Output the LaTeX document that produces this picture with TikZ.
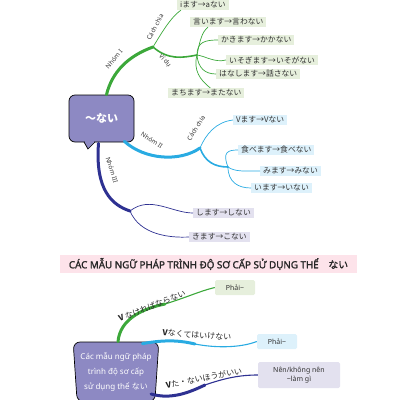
\documentclass[tikz,border=0pt]{standalone}
\usepackage{fontspec}
\setmainfont{Noto Sans}
\newfontfamily\jp{Noto Sans CJK JP}
\newfontfamily\headfont{Noto Sans}[FakeBold=1.6]
\newfontfamily\headjp{Noto Sans CJK JP}[FakeBold=1.6]
\usepackage{tikz}
\usetikzlibrary{shapes.geometric,calc}
\definecolor{nhomI}{HTML}{3CA83A}
\definecolor{nhomII}{HTML}{29ABE2}
\definecolor{nhomIII}{HTML}{2E3192}
\definecolor{boxpurple}{HTML}{8D89C3}
\definecolor{leafgreen}{HTML}{E6EFDC}
\definecolor{leafblue}{HTML}{DDF1FB}
\definecolor{leafpurple}{HTML}{E3E1EF}
\definecolor{bannerpink}{HTML}{FDE3EA}
\tikzset{
    topic/.style={
        rectangle, rounded corners=6pt, draw=black, line width=0.7pt,
        fill=boxpurple, text=white, align=center
    },
    bucket/.style={
        trapezium, shape border rotate=180, trapezium stretches=true,
        trapezium angle=85, rounded corners=7pt, draw=black, line width=0.7pt,
        fill=boxpurple, text=white, align=center,
        font=\fontsize{8}{15}\selectfont
    },
    leaf/.style={
        rectangle, anchor=west, inner xsep=3pt, inner ysep=1.5pt,
        text=black!80, font=\jp\fontsize{7.8}{8}\selectfont
    },
    result/.style={
        rectangle, rounded corners=1.5pt, minimum width=40pt, minimum height=15pt,
        align=center, text=black!80, font=\fontsize{7}{9}\selectfont
    },
    banner/.style={
        rectangle, fill=bannerpink, minimum width=297pt, minimum height=14pt,
        text=black!85, font=\headfont\fontsize{9.8}{10}\selectfont
    },
    tag/.style={text=black!80, inner sep=1pt, font=\fontsize{6.3}{7}\selectfont},
    cue/.style={text=black!85, font=\jp\fontsize{8}{9}\selectfont},
    trunk/.style={line width=3pt, line cap=round},
    bough/.style={line width=1.6pt, line cap=round},
    twig/.style={line width=0.7pt}
}
\begin{document}
\begin{tikzpicture}[x=1pt, y=-1pt]
\useasboundingbox (0,0) rectangle (400,400);

%% ---------- mind map of the nai form ----------
\node[topic, minimum width=65pt, minimum height=47pt,
      font=\jp\bfseries\fontsize{11}{12}\selectfont] (nai) at (101.5,118.5) {～ない};
%% speech bubble tail
\filldraw[fill=boxpurple, line width=0.7pt] (84,142) -- (88,149) -- (95,142);
\fill[boxpurple] (84.6,141) rectangle (94.4,142.6);

%% Nhom I (green)
\coordinate (gJ) at (153,47);
\coordinate (gK) at (197,55);
\draw[trunk, nhomI] ($(nai.north)+(5,0)$) .. controls (112,72) and (128,56) .. (gJ);
\node[tag, rotate=50] (tagI) at (114,59) {Nhóm I};
\node[tag, rotate=62] (chiaI) at (155,27) {Cách chia};
\node[tag, rotate=-48] (viduI) at (165,61) {Ví dụ};

\node[leaf, fill=leafgreen] (g1) at (177,5)  {iます→aない};
\node[leaf, fill=leafgreen] (g2) at (190,22) {言います→言わない};
\node[leaf, fill=leafgreen] (g3) at (218,40) {かきます→かかない};
\node[leaf, fill=leafgreen] (g4) at (226,60) {いそぎます→いそがない};
\node[leaf, fill=leafgreen] (g5) at (216,74) {はなします→話さない};
\node[leaf, fill=leafgreen] (g6) at (168,93) {まちます→またない};

\draw[twig, nhomI] (gJ) .. controls (161,34) and (170,18) .. ($(g1.south west)+(4,0)$);
\draw[bough, nhomI] (gJ) .. controls (168,60) and (182,58) .. (gK);
\draw[twig, nhomI] (gK) .. controls (200,40) and (202,32) .. ($(g2.south west)+(18,0)$);
\draw[twig, nhomI] (gK) .. controls (197,42) and (205,40) .. (g3.west);
\draw[twig, nhomI] (gK) .. controls (205,56) and (215,63) .. (g4.west);
\draw[twig, nhomI] (gK) .. controls (198,68) and (205,74) .. (g5.west);
\draw[twig, nhomI] (gK) .. controls (193,70) and (200,80) .. ($(g6.north)+(4,0)$);

%% Nhom II (light blue)
\coordinate (bJ) at (200,148);
\coordinate (bK) at (228,167);
\draw[trunk, nhomII] ($(nai.south east)+(-10,-1)$) .. controls (145,160) and (180,162) .. (bJ);
\node[tag, rotate=-32] (tagII) at (152,140) {Nhóm II};
\node[tag, rotate=58] (chiaII) at (196,128) {Cách chia};

\node[leaf, fill=leafblue] (b1) at (233,120) {Vます→Vない};
\node[leaf, fill=leafblue] (b2) at (238,150) {食べます→食べない};
\node[leaf, fill=leafblue] (b3) at (260,171) {みます→みない};
\node[leaf, fill=leafblue] (b4) at (251,188) {います→いない};

\draw[twig, nhomII] (bJ) .. controls (206,134) and (216,122) .. (b1.west);
\draw[bough, nhomII] (bJ) .. controls (205,162) and (215,167) .. (bK);
\draw[twig, nhomII] (bK) .. controls (222,152) and (228,150) .. (b2.west);
\draw[twig, nhomII] (bK) .. controls (235,172) and (245,171) .. (b3.west);
\draw[twig, nhomII] (bK) .. controls (228,182) and (238,188) .. (b4.west);

%% Nhom III (dark blue)
\coordinate (nJ) at (130,211);
\draw[trunk, nhomIII] ($(nai.south)+(-3,1)$) .. controls (95,190) and (112,205) .. (nJ);
\node[tag, rotate=-72] (tagIII) at (112,170) {Nhóm III};

\node[leaf, fill=leafpurple] (n1) at (193,213) {します→しない};
\node[leaf, fill=leafpurple] (n2) at (189,237) {きます→こない};

\draw[twig, nhomIII] (nJ) .. controls (150,195) and (172,213) .. (n1.west);
\draw[twig, nhomIII] (nJ) .. controls (140,235) and (170,238) .. (n2.west);

%% ---------- heading ----------
\node[banner] (heading) at (208.5,264) {CÁC MẪU NGỮ PHÁP TRÌNH ĐỘ SƠ CẤP SỬ DỤNG THỂ\quad{\headjp ない}};

%% ---------- grammar patterns ----------
\node[bucket, minimum width=82pt, minimum height=60pt] (mau) at (116,372)
    {Các mẫu ngữ pháp\\trình độ sơ cấp\\sử dụng thể {\jp ない}};

\node[result, fill=leafgreen]  (r1) at (235,287.5) {Phải\textasciitilde};
\node[result, fill=leafblue]   (r2) at (277,341.5) {Phải\textasciitilde};
\node[result, fill=leafpurple, minimum width=82pt, minimum height=26pt]
    (r3) at (299,375) {Nên/không nên\\\textasciitilde làm gì};

%% V nakereba naranai
\coordinate (p1) at (165,304);
\draw[trunk, nhomI] ($(mau.north)+(2,0)$) .. controls (120,318) and (145,308) .. (p1);
\draw[twig, nhomI, line width=1.1pt] (p1) .. controls (185,298) and (200,291) .. (r1.west);
\node[cue, rotate=21] (c1) at (152,306) {\textbf{V} なければならない};

%% V nakute wa ikenai
\coordinate (p2) at (195,344);
\draw[trunk, nhomII] ($(mau.north east)+(-4,2)$) .. controls (168,339) and (182,341) .. (p2);
\draw[twig, nhomII, line width=1.1pt] (p2) .. controls (215,348) and (240,348) .. (r2.west);
\node[cue, rotate=-4] (c2) at (197,335) {\textbf{V}なくてはいけない};

%% V ta / nai hou ga ii
\coordinate (p3) at (205,385);
\draw[trunk, nhomIII] (151,394) .. controls (172,400) and (190,392) .. (p3);
\draw[twig, nhomIII, line width=1.1pt] (p3) .. controls (225,378) and (240,375) .. (r3.west);
\node[cue, rotate=11] (c3) at (204,378) {\textbf{V}た・ないほうがいい};

\end{tikzpicture}
\end{document}
